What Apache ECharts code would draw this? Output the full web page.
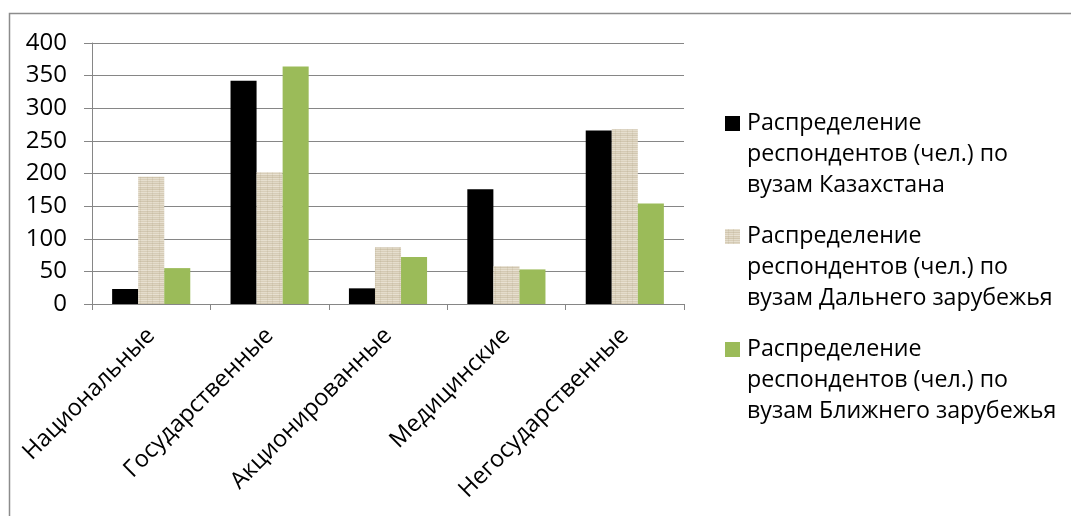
<!DOCTYPE html>
<html>
<head>
<meta charset="utf-8">
<script src="https://cdn.jsdelivr.net/npm/echarts@6/dist/echarts.min.js"></script>
<style>
  html, body { margin: 0; padding: 0; background: #ffffff; }
  #chart { width: 1071px; height: 516px; }
</style>
</head>
<body>
<div id="chart"></div>
<script>
// Categories of universities
const categories = ['Национальные', 'Государственные', 'Акционированные', 'Медицинские', 'Негосударственные'];

// Number of respondents (persons) per category
const seriesNames = [
  'Распределение респондентов (чел.) по вузам Казахстана',
  'Распределение респондентов (чел.) по вузам Дальнего зарубежья',
  'Распределение респондентов (чел.) по вузам Ближнего зарубежья'
];
const kazakhstan = [23, 342, 24, 176, 266];
const farAbroad = [195, 202, 87, 58, 268];
const nearAbroad = [55, 364, 72, 53, 154];

// Value axis ticks
const yMin = 0, yMax = 400, yStep = 50;

const FONT = '"Open Sans", Lato, sans-serif';
const GREY = '#868686';

// Linen-like texture for the second series
function linenPattern() {
  const c = document.createElement('canvas');
  c.width = 12; c.height = 12;
  const g = c.getContext('2d');
  g.fillStyle = '#dcd3c0';
  g.fillRect(0, 0, 12, 12);
  const rows = ['#e6dfcf', '#d6ccb7', '#e1d9c7', '#d2c7b1', '#e4dccb', '#d9cfba',
                '#e8e1d2', '#d4c9b3', '#dfd6c3', '#d1c6af', '#e5ddcc', '#d8ceb9'];
  rows.forEach((col, i) => { g.fillStyle = col; g.fillRect(0, i, 12, 1); });
  g.fillStyle = 'rgba(170,158,130,0.18)';
  g.fillRect(3, 0, 1, 12);
  g.fillRect(8, 0, 1, 12);
  return c;
}

const chart = echarts.init(document.getElementById('chart'), null, { renderer: 'canvas' });

// Legend marker: a square on the first text line, padded to the item's full box
const legendIcon = 'path://M0,0h15v15h-15zM17,77';

function wrapName(name) {
  return name.replace(' респондентов', '\nреспондентов').replace(' вузам', '\nвузам');
}

const option = {
  animation: false,
  backgroundColor: '#ffffff',
  textStyle: { fontFamily: FONT },
  graphic: [{
    type: 'rect',
    shape: { x: 9.5, y: 13.5, width: 1100, height: 600 },
    style: { fill: 'none', stroke: '#8c8c8c', lineWidth: 1.5 },
    silent: true,
    z: -1
  }],
  grid: {
    left: 92, right: 387, top: 43, bottom: 212,
    containLabel: false,
    outerBoundsMode: 'none'
  },
  legend: {
    orient: 'vertical',
    left: 725,
    top: 108,
    padding: 0,
    itemWidth: 17,
    itemHeight: 77,
    itemGap: 20,
    icon: legendIcon,
    symbolKeepAspect: true,
    selectedMode: false,
    formatter: wrapName,
    textStyle: {
      fontFamily: FONT,
      fontSize: 23.2,
      lineHeight: 31,
      color: '#000000'
    }
  },
  xAxis: {
    type: 'category',
    data: categories,
    boundaryGap: true,
    axisLine: { show: true, lineStyle: { color: GREY, width: 1 } },
    axisTick: { show: true, alignWithLabel: false, length: 6, lineStyle: { color: GREY } },
    axisLabel: {
      rotate: 45,
      margin: 28,
      interval: 0,
      color: '#000000',
      fontFamily: FONT,
      fontSize: 23.5
    },
    splitLine: { show: false }
  },
  yAxis: {
    type: 'value',
    min: yMin,
    max: yMax,
    interval: yStep,
    axisLine: { show: true, lineStyle: { color: GREY, width: 1 } },
    axisTick: { show: true, inside: false, length: 8, lineStyle: { color: GREY } },
    axisLabel: {
      margin: 25,
      color: '#000000',
      fontFamily: FONT,
      fontSize: 24
    },
    splitLine: { show: true, lineStyle: { color: GREY, width: 1 } }
  },
  series: [
    {
      name: seriesNames[0],
      type: 'bar',
      data: kazakhstan,
      barGap: '0%',
      barCategoryGap: '34%',
      itemStyle: { color: '#000000' }
    },
    {
      name: seriesNames[1],
      type: 'bar',
      data: farAbroad,
      barGap: '0%',
      barCategoryGap: '34%',
      itemStyle: { color: { image: linenPattern(), repeat: 'repeat' } }
    },
    {
      name: seriesNames[2],
      type: 'bar',
      data: nearAbroad,
      barGap: '0%',
      barCategoryGap: '34%',
      itemStyle: { color: '#9bbb59' }
    }
  ]
};

chart.setOption(option);
</script>
</body>
</html>
